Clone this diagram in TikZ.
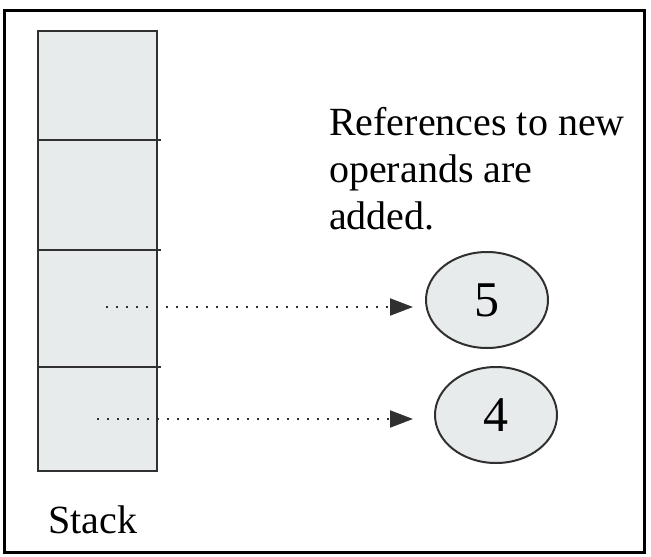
\documentclass[tikz,border=0pt]{standalone}
\usepackage{fontspec}
\setmainfont{Liberation Serif}
\usetikzlibrary{arrows.meta,shapes.geometric}
\definecolor{cellgray}{HTML}{E8EBEC}
\definecolor{edge}{HTML}{303030}
\tikzset{
  cellbox/.style={draw=edge, line width=2.4pt, fill=cellgray},
  operand/.style={ellipse, draw=edge, line width=2pt, fill=cellgray, minimum width=122pt, minimum height=96pt, inner sep=0pt, font=\fontsize{50}{50}\selectfont},
  ref/.style={line width=2pt, dash pattern=on 2pt off 8pt, -{Triangle[length=23pt,width=17pt]}, edge},
  lbl/.style={font=\fontsize{40}{47}\selectfont, inner sep=0pt}
}
\begin{document}
\begin{tikzpicture}[x=1pt,y=-1pt]
\useasboundingbox (0,0) rectangle (651,557);
\draw[line width=3pt] (4,10) rectangle (644,552);
% stack
\draw[cellbox] (38,31) rectangle (157,471);
\draw[edge, line width=2.4pt] (38,140) -- (161,140);
\draw[edge, line width=2.4pt] (38,250) -- (161,250);
\draw[edge, line width=2.4pt] (38,367) -- (161,367);
\node[lbl, anchor=base west] (stack) at (48,533) {Stack};
% text
\node[lbl, anchor=base west, align=left] (note) at (329,135) {References to new};
\node[lbl, anchor=base west] (note2) at (329,182) {operands are};
\node[lbl, anchor=base west] (note3) at (329,229) {added.};
% operands
\node[operand] (e5) at (487,300) {5};
\node[operand] (e4) at (496,415) {4};
\coordinate (s5) at (106,307);
\coordinate (t5) at (413,307);
\coordinate (s4) at (97,419);
\coordinate (t4) at (413,419);
\draw[ref] (s5) -- (t5);
\draw[ref] (s4) -- (t4);
\end{tikzpicture}
\end{document}
